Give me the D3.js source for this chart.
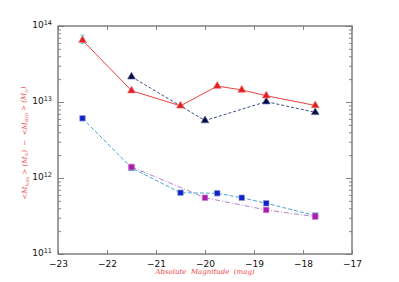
<!DOCTYPE html>
<meta charset="utf-8">
<script src="https://d3js.org/d3.v7.min.js"></script>
<style>
  body { margin: 0; background: #fff; }
  .tick text { font-family: "DejaVu Sans", sans-serif; font-size: 9px; fill: #111; }
</style>
<div id="my_dataviz"></div>
<script>

// data
var magRed   = [-22.5, -21.5, -20.5, -19.75, -19.25, -18.75, -17.75];
var massRed  = [6.5e13, 1.41e13, 8.9e12, 1.62e13, 1.44e13, 1.21e13, 9.0e12];
var magNavy  = [-21.5, -20.0, -18.75, -17.75];
var massNavy = [2.15e13, 5.7e12, 1.01e13, 7.3e12];
var magBlue  = [-22.5, -21.5, -20.5, -19.75, -19.25, -18.75, -17.75];
var massBlue = [6.1e12, 1.36e12, 6.4e11, 6.3e11, 5.5e11, 4.65e11, 3.2e11];
var magMag   = [-21.5, -20.0, -18.75, -17.75];
var massMag  = [1.4e12, 5.5e11, 3.8e11, 3.1e11];
var errRed   = [[-22.5, 5.9e13, 7.6e13]];   // [mag, low, high]
var xTicks   = [-23, -22, -21, -20, -19, -18, -17];
var yMajor   = [1e11, 1e12, 1e13, 1e14];

var margin = {top: 26, right: 47, bottom: 28, left: 58},
    width = 399 - margin.left - margin.right,
    height = 282 - margin.top - margin.bottom;

var svg = d3.select("#my_dataviz")
  .append("svg")
    .attr("width", 399)
    .attr("height", 282)
  .append("g")
    .attr("transform", "translate(" + margin.left + "," + margin.top + ")");

var x = d3.scaleLinear().domain([-23, -17]).range([0, width]);
var y = d3.scaleLog().domain([1e11, 1e14]).range([height, 0]);

// minor log ticks
var yMinor = [];
yMajor.slice(0, 3).forEach(function(d) {
  for (var k = 2; k < 10; k++) yMinor.push(d * k);
});

function sup(sel) {
  sel.each(function(d) {
    var t = d3.select(this).text("");
    t.append("tspan").text("10");
    t.append("tspan").attr("dy", "-0.5em").style("font-size", "6.5px")
      .text(Math.round(Math.log10(d)));
  });
}

// axes (ticks pointing inward)
svg.append("g").attr("transform", "translate(0," + height + ")")
  .call(d3.axisBottom(x).tickValues(xTicks).tickSizeInner(-4).tickSizeOuter(0)
    .tickPadding(7).tickFormat(function(d) { return d3.format("")(d).replace("-", "\u2212"); }));
svg.append("g")
  .call(d3.axisTop(x).tickValues(xTicks).tickSizeInner(-4).tickSizeOuter(0).tickFormat(""));

svg.append("g")
  .call(d3.axisLeft(y).tickValues(yMajor).tickSizeInner(-6).tickSizeOuter(0).tickPadding(6))
  .selectAll("text").attr("dy", "0.2em").call(sup);
svg.append("g")
  .call(d3.axisLeft(y).tickValues(yMinor).tickSizeInner(-3).tickSizeOuter(0).tickFormat(""));
svg.append("g").attr("transform", "translate(" + width + ",0)")
  .call(d3.axisRight(y).tickValues(yMajor).tickSizeInner(-6).tickSizeOuter(0).tickFormat(""));
svg.append("g").attr("transform", "translate(" + width + ",0)")
  .call(d3.axisRight(y).tickValues(yMinor).tickSizeInner(-3).tickSizeOuter(0).tickFormat(""));

svg.selectAll(".domain").remove();
svg.selectAll(".tick line").attr("stroke", "#666").attr("stroke-width", 0.8);

// frame
svg.append("rect").attr("width", width).attr("height", height)
  .attr("fill", "none").attr("stroke", "#777").attr("stroke-width", 1.4);

var line = d3.line().x(function(d) { return x(d[0]); }).y(function(d) { return y(d[1]); });

function series(mags, masses, lineColor, dash, fill, edge, shape, size) {
  var pts = d3.zip(mags, masses);
  svg.append("path").datum(pts)
    .attr("d", line)
    .attr("fill", "none")
    .attr("stroke", lineColor)
    .attr("stroke-width", 1)
    .attr("stroke-dasharray", dash);
  svg.append("g").selectAll("path").data(pts).enter().append("path")
    .attr("d", d3.symbol().type(shape).size(size))
    .attr("transform", function(d) { return "translate(" + x(d[0]) + "," + y(d[1]) + ")"; })
    .attr("fill", fill)
    .attr("stroke", edge)
    .attr("stroke-width", 0.7);
}

// error bar on the first red point
errRed.forEach(function(e) {
  var g = svg.append("g").attr("stroke", "#55d5d5").attr("stroke-width", 1);
  g.append("line").attr("x1", x(e[0])).attr("x2", x(e[0])).attr("y1", y(e[1])).attr("y2", y(e[2]));
  g.append("line").attr("x1", x(e[0]) - 2).attr("x2", x(e[0]) + 2).attr("y1", y(e[1])).attr("y2", y(e[1]));
  g.append("line").attr("x1", x(e[0]) - 2).attr("x2", x(e[0]) + 2).attr("y1", y(e[2])).attr("y2", y(e[2]));
});

series(magBlue, massBlue, "#4ba3d6", "4,2", "#1020cc", "#8899cc", d3.symbolSquare, 30);
series(magMag, massMag, "#b080d0", "5,2,1,2", "#b018b0", "#c080c0", d3.symbolSquare, 30);
series(magNavy, massNavy, "#3a4f8a", "3,2", "#08083a", "#5566aa", d3.symbolTriangle, 26);
series(magRed, massRed, "#ee4040", null, "#dd1f1f", "#f07070", d3.symbolTriangle, 26);

// axis labels
svg.append("text")
  .attr("x", width / 2).attr("y", height + 20)
  .attr("text-anchor", "middle")
  .style("font-family", "DejaVu Serif, serif").style("font-style", "italic")
  .style("font-size", "7px").style("fill", "#f04848")
  .attr("xml:space", "preserve")
  .text("Absolute  Magnitude  (mag)");

var yl = svg.append("text")
  .attr("transform", "translate(-31," + (height / 2 + 3) + ") rotate(-90)")
  .attr("text-anchor", "middle")
  .style("font-family", "DejaVu Serif, serif").style("font-style", "italic")
  .style("font-size", "7px").style("fill", "#f04848")
  .attr("xml:space", "preserve");
yl.append("tspan").text("<M");
yl.append("tspan").attr("dy", "0.35em").style("font-size", "4.5px").text("halo");
yl.append("tspan").attr("dy", "-0.25em").text(" > (M");
yl.append("tspan").attr("dy", "0.35em").style("font-size", "4.5px").text("\u2299");
yl.append("tspan").attr("dy", "-0.25em").text(")  \u2212  <M");
yl.append("tspan").attr("dy", "0.35em").style("font-size", "4.5px").text("strp");
yl.append("tspan").attr("dy", "-0.25em").text(" > (M");
yl.append("tspan").attr("dy", "0.35em").style("font-size", "4.5px").text("\u2299");
yl.append("tspan").attr("dy", "-0.25em").text(")");

</script>
